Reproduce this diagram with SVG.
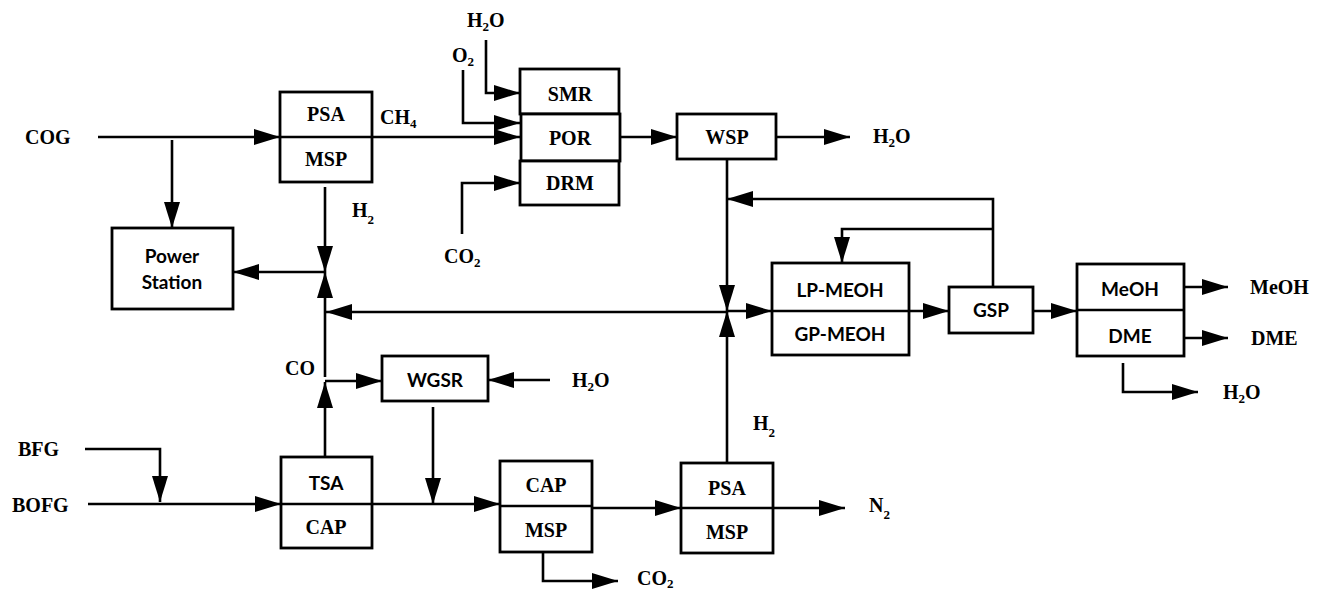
<svg xmlns="http://www.w3.org/2000/svg" width="1328" height="591" viewBox="0 0 1328 591">
<style>
.bx{fill:#fff;stroke:#000;stroke-width:2.8}
.ln{fill:none;stroke:#000;stroke-width:2.6}
.ar{marker-end:url(#ah)}
.t{font-family:"Liberation Serif",serif;font-weight:bold;font-size:20px;fill:#000}
.s{font-family:Lato,"Liberation Sans",sans-serif;font-weight:bold;font-size:19px;fill:#000}
.m{text-anchor:middle}
.sub{font-size:13px}
</style>
<defs>
<marker id="ah" markerUnits="userSpaceOnUse" markerWidth="26" markerHeight="16" refX="26" refY="8" orient="auto">
<path d="M0,0 L26,8 L0,16 z" fill="#000"/>
</marker>
</defs>
<rect width="1328" height="591" fill="#fff"/>

<g id="connectors">
<line class="ln ar" x1="98" y1="137" x2="280" y2="137"/>
<line class="ln ar" x1="172" y1="140" x2="172" y2="228"/>
<line class="ln ar" x1="372" y1="137" x2="520" y2="137"/>
<polyline class="ln ar" points="486,40 486,93 520,93"/>
<polyline class="ln ar" points="463,70 463,123 520,123"/>
<polyline class="ln ar" points="462,234 462,183 520,183"/>
<line class="ln ar" x1="620" y1="137" x2="677" y2="137"/>
<line class="ln ar" x1="776" y1="137" x2="850" y2="137"/>
<line class="ln ar" x1="325" y1="187" x2="325" y2="272"/>
<line class="ln ar" x1="325" y1="272" x2="233" y2="272"/>
<line class="ln ar" x1="325" y1="377" x2="325" y2="272"/>
<line class="ln ar" x1="325" y1="457" x2="325" y2="382"/>
<line class="ln ar" x1="325" y1="381" x2="382" y2="381"/>
<line class="ln ar" x1="550" y1="380" x2="488" y2="380"/>
<line class="ln ar" x1="433" y1="407" x2="433" y2="504"/>
<line class="ln ar" x1="727" y1="312" x2="326" y2="312"/>
<line class="ln ar" x1="727" y1="159" x2="727" y2="311"/>
<line class="ln ar" x1="727" y1="463" x2="727" y2="311"/>
<line class="ln ar" x1="727" y1="311" x2="772" y2="311"/>
<polyline class="ln ar" points="993,287 993,199 727,199"/>
<polyline class="ln ar" points="993,229 842,229 842,263"/>
<line class="ln ar" x1="909" y1="311" x2="949" y2="311"/>
<line class="ln ar" x1="1033" y1="311" x2="1077" y2="311"/>
<line class="ln ar" x1="1184" y1="287" x2="1228" y2="287"/>
<line class="ln ar" x1="1184" y1="338" x2="1228" y2="338"/>
<polyline class="ln ar" points="1123,363 1123,392 1198,392"/>
<polyline class="ln ar" points="85,449 160,449 160,502"/>
<line class="ln ar" x1="88" y1="504" x2="281" y2="504"/>
<line class="ln ar" x1="372" y1="504" x2="500" y2="504"/>
<polyline class="ln ar" points="543,552 543,581 618,581"/>
<line class="ln ar" x1="592" y1="508" x2="681" y2="508"/>
<line class="ln ar" x1="773" y1="508" x2="845" y2="508"/>
</g>

<g id="psa-msp-top">
<rect class="bx" x="280" y="92" width="92" height="90"/>
<line class="ln" x1="280" y1="137" x2="372" y2="137"/>
<text class="t m" x="326" y="121">PSA</text>
<text class="t m" x="326" y="166">MSP</text>
</g>
<g id="power-station">
<rect class="bx" x="112" y="228" width="121" height="81"/>
<text class="s m" x="172" y="263">Power</text>
<text class="s m" x="172" y="289">Station</text>
</g>
<g id="smr">
<rect class="bx" x="520" y="69" width="99" height="45"/>
<text class="t m" x="570" y="101">SMR</text>
</g>
<g id="por">
<rect class="bx" x="521" y="114" width="99" height="47"/>
<text class="t m" x="570" y="145">POR</text>
</g>
<g id="drm">
<rect class="bx" x="520" y="161" width="99" height="44"/>
<text class="t m" x="570" y="190">DRM</text>
</g>
<g id="wsp">
<rect class="bx" x="677" y="114" width="99" height="45"/>
<text class="t m" x="727" y="144">WSP</text>
</g>
<g id="wgsr">
<rect class="bx" x="382" y="356" width="106" height="45"/>
<text class="s m" x="435" y="387">WGSR</text>
</g>
<g id="tsa-cap">
<rect class="bx" x="281" y="457" width="91" height="91"/>
<line class="ln" x1="281" y1="504" x2="372" y2="504"/>
<text class="s m" x="326" y="490">TSA</text>
<text class="t m" x="326" y="534">CAP</text>
</g>
<g id="cap-msp">
<rect class="bx" x="500" y="461" width="92" height="91"/>
<line class="ln" x1="500" y1="506" x2="592" y2="506"/>
<text class="t m" x="546" y="492">CAP</text>
<text class="t m" x="546" y="537">MSP</text>
</g>
<g id="psa-msp-bottom">
<rect class="bx" x="681" y="463" width="92" height="90"/>
<line class="ln" x1="681" y1="508" x2="773" y2="508"/>
<text class="t m" x="727" y="495">PSA</text>
<text class="t m" x="727" y="539">MSP</text>
</g>
<g id="lp-gp-meoh">
<rect class="bx" x="772" y="263" width="137" height="92"/>
<line class="ln" x1="772" y1="311" x2="909" y2="311"/>
<text class="s m" x="840" y="297">LP-MEOH</text>
<text class="s m" x="840" y="341">GP-MEOH</text>
</g>
<g id="gsp">
<rect class="bx" x="949" y="287" width="84" height="46"/>
<text class="s m" x="991" y="317">GSP</text>
</g>
<g id="meoh-dme">
<rect class="bx" x="1077" y="264" width="107" height="92"/>
<line class="ln" x1="1077" y1="310" x2="1184" y2="310"/>
<text class="s m" x="1130" y="296">MeOH</text>
<text class="s m" x="1130" y="343">DME</text>
</g>

<g id="labels">
<text class="t" x="25" y="144">COG</text>
<text class="t" x="380" y="124">CH<tspan class="sub" dy="4">4</tspan></text>
<text class="t" x="352" y="217">H<tspan class="sub" dy="7">2</tspan></text>
<text class="t" x="467" y="27">H<tspan class="sub" dy="4">2</tspan><tspan dy="-4">O</tspan></text>
<text class="t" x="452" y="62">O<tspan class="sub" dy="4">2</tspan></text>
<text class="t" x="873" y="143">H<tspan class="sub" dy="4">2</tspan><tspan dy="-4">O</tspan></text>
<text class="t" x="444" y="263">CO<tspan class="sub" dy="4">2</tspan></text>
<text class="t" x="285" y="375">CO</text>
<text class="t" x="572" y="387">H<tspan class="sub" dy="4">2</tspan><tspan dy="-4">O</tspan></text>
<text class="t" x="18" y="456">BFG</text>
<text class="t" x="12" y="512">BOFG</text>
<text class="t" x="637" y="585">CO<tspan class="sub" dy="3">2</tspan></text>
<text class="t" x="753" y="430">H<tspan class="sub" dy="7">2</tspan></text>
<text class="t" x="869" y="512">N<tspan class="sub" dy="7">2</tspan></text>
<text class="t" x="1250" y="294">MeOH</text>
<text class="t" x="1251" y="345">DME</text>
<text class="t" x="1223" y="399">H<tspan class="sub" dy="4">2</tspan><tspan dy="-4">O</tspan></text>
</g>
</svg>
